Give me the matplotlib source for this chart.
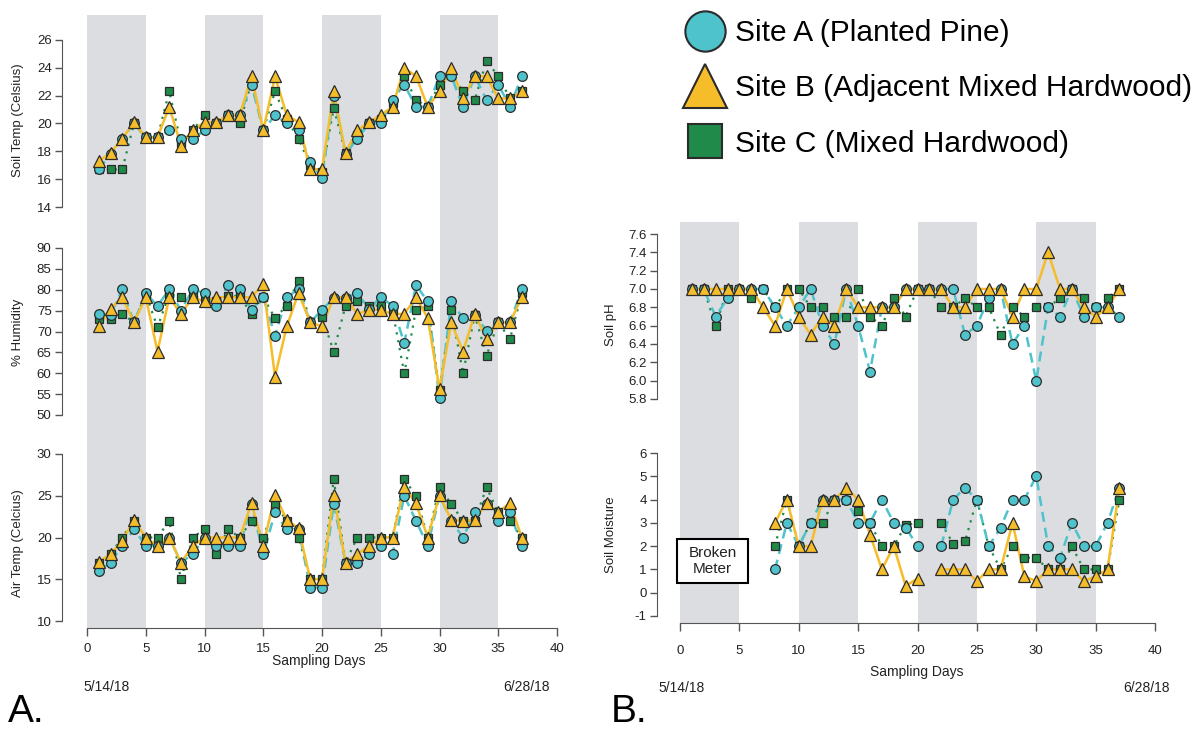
import numpy as np
import matplotlib
matplotlib.use('Agg')
import matplotlib.pyplot as plt
from matplotlib.lines import Line2D
from matplotlib.patches import Rectangle

plt.rcParams['font.family'] = ['Liberation Sans', 'DejaVu Sans']

nan = np.nan
days = np.arange(1, 38)

# ---- Panel A data ----
soil_temp_a = [16.7, 17.8, 18.9, 20.0, 19.0, 19.0, 19.5, 18.9, 18.9, 19.5, 20.0, 20.6, 20.6, 22.8, 19.5, 20.6, 20.0, 19.5, 17.2, 16.1,
               22.0, 17.8, 18.9, 20.0, 20.0, 21.7, 22.8, 21.2, 21.2, 23.4, 23.4, 21.2, 23.4, 21.7, 22.8, 21.2, 23.4]
soil_temp_b = [17.3, 17.9, 18.9, 20.1, 19.0, 19.0, 21.2, 18.4, 19.5, 20.1, 20.1, 20.6, 20.6, 23.4, 19.5, 23.4, 20.6, 20.1, 16.7, 16.7,
               22.3, 17.9, 19.5, 20.1, 20.6, 21.2, 24.0, 23.4, 21.2, 22.3, 24.0, 21.8, 23.4, 23.4, 21.8, 21.8, 22.3]
soil_temp_c = [16.7, 16.7, 16.7, 20.0, 19.0, 19.0, 22.3, 18.6, 19.5, 20.6, 20.0, 20.6, 20.0, 23.0, 19.5, 22.3, 20.3, 18.9, 17.0, 16.5,
               21.1, 17.9, 19.2, 20.0, 20.3, 21.5, 23.4, 21.7, 21.2, 22.8, 23.5, 22.3, 21.7, 24.5, 23.4, 21.8, 22.3]

humidity_a = [74.2, 74.0, 80.1, 72.2, 79.2, 76.1, 80.1, 75.0, 80.1, 79.2, 76.1, 81.1, 80.1, 75.2, 78.2, 69.0, 78.2, 80.1, 72.2, 75.2,
              78.0, 78.0, 79.2, 75.5, 78.2, 76.2, 67.2, 81.1, 77.2, 54.0, 77.2, 73.2, 74.0, 70.2, 72.2, 72.2, 80.1]
humidity_b = [71.2, 75.4, 78.2, 72.2, 78.2, 65.2, 78.2, 74.2, 78.2, 77.2, 78.2, 78.2, 78.2, 78.2, 81.3, 59.2, 71.2, 79.2, 72.2, 71.2,
              78.2, 78.2, 74.2, 75.2, 75.2, 74.2, 74.2, 78.2, 73.2, 56.2, 72.2, 65.2, 74.2, 68.2, 72.2, 72.2, 78.2]
humidity_c = [73.0, 72.9, 74.2, 72.2, 79.0, 71.0, 79.0, 78.2, 78.5, 78.0, 77.2, 78.5, 78.5, 74.2, 78.2, 73.2, 76.2, 82.2, 72.2, 73.5,
              65.2, 76.2, 77.2, 76.2, 76.2, 75.0, 60.0, 75.2, 76.2, 56.0, 75.2, 60.0, 74.0, 64.2, 72.2, 68.2, 79.2]

air_temp_a = [16.0, 17.0, 19.0, 21.0, 19.0, 19.0, 20.0, 17.0, 18.0, 20.0, 19.0, 19.0, 19.0, 24.0, 18.0, 23.0, 21.0, 21.0, 14.0, 14.0,
              24.0, 17.0, 17.0, 18.0, 19.0, 18.0, 25.0, 22.0, 19.0, 25.0, 22.0, 20.0, 23.0, 24.0, 22.0, 23.0, 19.0]
air_temp_b = [17.1, 18.0, 19.6, 22.1, 20.0, 19.0, 20.0, 17.0, 19.0, 20.0, 20.0, 20.0, 20.0, 24.1, 19.0, 25.1, 22.1, 21.1, 15.0, 15.0,
              25.1, 17.0, 18.0, 19.0, 20.0, 20.0, 26.1, 24.1, 20.0, 25.1, 22.1, 22.0, 22.1, 24.1, 23.1, 24.1, 20.0]
air_temp_c = [17.0, 18.0, 20.0, 22.0, 20.0, 20.0, 22.0, 15.0, 20.0, 21.0, 18.0, 21.0, 20.0, 22.0, 20.0, 24.0, 22.0, 20.0, 15.0, 15.0,
              27.0, 17.0, 20.0, 20.0, 20.0, 20.0, 27.0, 25.0, 20.0, 26.0, 24.0, 22.0, 22.0, 26.0, 23.0, 22.0, 20.0]

# ---- Panel B data ----
ph_a = [7.0, 7.0, 6.7, 6.9, 7.0, 7.0, 7.0, 6.8, 6.6, 6.8, 7.0, 6.6, 6.4, 7.0, 6.6, 6.1, 6.8, 6.8, 7.0, 7.0,
        7.0, 7.0, 7.0, 6.5, 6.6, 6.9, 7.0, 6.4, 6.6, 6.0, 6.8, 6.7, 7.0, 6.7, 6.8, 6.8, 6.7]
ph_b = [7.0, 7.0, 7.0, 7.0, 7.0, 7.0, 6.8, 6.6, 7.0, 6.7, 6.5, 6.7, 6.6, 7.0, 6.8, 6.8, 6.8, 6.8, 7.0, 7.0,
        7.0, 7.0, 6.8, 6.8, 7.0, 7.0, 7.0, 6.7, 7.0, 7.0, 7.4, 7.0, 7.0, 6.8, 6.7, 6.8, 7.0]
ph_c = [7.0, 7.0, 6.6, 7.0, 7.0, 6.9, 7.0, 6.8, 7.0, 7.0, 6.8, 6.8, 6.7, 6.7, 7.0, 6.7, 6.6, 6.9, 6.7, 7.0,
        7.0, 6.8, 6.8, 6.9, 6.8, 6.8, 6.5, 6.8, 6.7, 6.8, 6.8, 6.9, 7.0, 6.9, 6.8, 6.9, 7.0]

moisture_a = [nan, nan, nan, nan, nan, nan, nan, 1.0, 3.0, 2.0, 3.0, 4.0, 4.0, 4.0, 3.0, 3.0, 4.0, 3.0, 2.8, 2.0,
              nan, 2.0, 4.0, 4.5, 4.0, 2.0, 2.8, 4.0, 4.0, 5.0, 2.0, 1.5, 3.0, 2.0, 2.0, 3.0, 4.5]
moisture_b = [nan, nan, nan, nan, nan, nan, nan, 3.0, 4.0, 2.0, 2.0, 4.0, 4.0, 4.5, 4.0, 2.5, 1.0, 2.0, 0.3, 0.6,
              nan, 1.0, 1.0, 1.0, 0.5, 1.0, 1.0, 3.0, 0.7, 0.5, 1.0, 1.0, 1.0, 0.5, 0.7, 1.0, 4.5]
moisture_c = [nan, nan, nan, nan, nan, nan, nan, 2.0, 4.0, 2.0, 3.0, 3.0, 4.0, 4.0, 3.5, 3.0, 2.0, 2.0, 2.9, 3.0,
              nan, 3.0, 2.1, 2.2, 4.0, 2.0, 1.0, 2.0, 1.5, 1.5, 1.0, 1.0, 2.0, 1.0, 1.0, 1.0, 4.0]

site_labels = ['Site A (Planted Pine)', 'Site B (Adjacent Mixed Hardwood)', 'Site C (Mixed Hardwood)']
shade_periods = [(0, 5), (10, 15), (20, 25), (30, 35)]
x_ticks = [0, 5, 10, 15, 20, 25, 30, 35, 40]

W, H = 1199, 731
fig = plt.figure(figsize=(W / 100, H / 100), dpi=100)


def rect(x0, x1, y0, y1):
    return [x0 / W, 1 - y1 / H, (x1 - x0) / W, (y1 - y0) / H]


BAND = '#dcdde0'
TEAL = '#4ec3cc'
GOLD = '#f6bd2b'
GREEN = '#1f8a4a'
EDGE = '#2b2b2b'
AXC = '#555555'
FS = 9.5


def background(r, pad):
    ax = fig.add_axes(r)
    ax.set_xlim(0, 40)
    ax.set_ylim(0, 1)
    for a, b in shade_periods:
        ax.axvspan(a, b, color=BAND, lw=0)
    for s in ['left', 'right', 'top']:
        ax.spines[s].set_visible(False)
    ax.spines['bottom'].set_color(AXC)
    ax.set_yticks([])
    ax.set_xticks(x_ticks)
    ax.tick_params(axis='x', length=6, width=1, color=AXC, labelsize=FS, pad=pad, labelcolor='#222222')
    return ax


def sub(r, ylim, yticks, fmt, outward):
    ax = fig.add_axes(r)
    ax.set_xlim(0, 40)
    ax.set_ylim(*ylim)
    ax.patch.set_visible(False)
    for s in ['right', 'top', 'bottom']:
        ax.spines[s].set_visible(False)
    ax.spines['left'].set_position(('outward', outward))
    ax.spines['left'].set_color(AXC)
    ax.set_xticks([])
    ax.set_yticks(yticks)
    ax.set_yticklabels([fmt.format(t) for t in yticks])
    ax.tick_params(axis='y', length=5, width=1, color=AXC, labelsize=FS, pad=2.5, labelcolor='#222222')
    return ax


def draw(ax, a, b, c):
    ax.plot(days, c, ls=(0, (1, 2.6)), color=GREEN, lw=1.6, zorder=2, clip_on=False)
    ax.plot(days, a, ls=(0, (4, 2.4)), color=TEAL, lw=1.8, zorder=2, clip_on=False)
    ax.plot(days, b, ls='-', color=GOLD, lw=1.8, zorder=2, clip_on=False)
    ax.plot(days, c, ls='none', marker='s', ms=6.3, mfc=GREEN, mec=EDGE, mew=0.9, zorder=3, clip_on=False)
    ax.plot(days, a, ls='none', marker='o', ms=7, mfc=TEAL, mec=EDGE, mew=0.9, zorder=4, clip_on=False)
    ax.plot(days, b, ls='none', marker='^', ms=8, mfc=GOLD, mec=EDGE, mew=0.9, zorder=5, clip_on=False)


# Panel A
background(rect(87, 557, 15, 628), pad=5)
ax1 = sub(rect(87, 557, 40, 207), (14, 26), [14, 16, 18, 20, 22, 24, 26], '{:g}', 18)
draw(ax1, soil_temp_a, soil_temp_b, soil_temp_c)
ax2 = sub(rect(87, 557, 248, 415), (50, 90), [50, 55, 60, 65, 70, 75, 80, 85, 90], '{:g}', 18)
draw(ax2, humidity_a, humidity_b, humidity_c)
ax3 = sub(rect(87, 557, 454, 621), (10, 30), [10, 15, 20, 25, 30], '{:g}', 18)
draw(ax3, air_temp_a, air_temp_b, air_temp_c)

# Panel B
background(rect(680, 1155, 222, 623), pad=10)
ax4 = sub(rect(680, 1155, 234, 399), (5.8, 7.6), [5.8, 6.0, 6.2, 6.4, 6.6, 6.8, 7.0, 7.2, 7.4, 7.6], '{:.1f}', 16.5)
draw(ax4, ph_a, ph_b, ph_c)
ax5 = sub(rect(680, 1155, 453, 616), (-1, 6), [-1, 0, 1, 2, 3, 4, 5, 6], '{:g}', 16.5)
draw(ax5, moisture_a, moisture_b, moisture_c)

# y labels
ylab = dict(rotation=90, ha='center', va='center', fontsize=FS, color='#222222')
fig.text(18 / W, 1 - 120 / H, 'Soil Temp (Celsius)', **ylab)
fig.text(18 / W, 1 - 332 / H, '% Humidity', **ylab)
fig.text(18 / W, 1 - 543 / H, 'Air Temp (Celcius)', **ylab)
fig.text(611 / W, 1 - 325 / H, 'Soil pH', **ylab)
fig.text(611 / W, 1 - 535 / H, 'Soil Moisture', **ylab)

# x labels and dates
fig.text(319 / W, 1 - 661 / H, 'Sampling Days', ha='center', va='center', fontsize=10, color='#222222')
fig.text(917 / W, 1 - 672 / H, 'Sampling Days', ha='center', va='center', fontsize=10, color='#222222')
fig.text(107 / W, 1 - 687 / H, '5/14/18', ha='center', va='center', fontsize=10, color='#222222')
fig.text(527 / W, 1 - 687 / H, '6/28/18', ha='center', va='center', fontsize=10, color='#222222')
fig.text(682 / W, 1 - 688 / H, '5/14/18', ha='center', va='center', fontsize=10, color='#222222')
fig.text(1147 / W, 1 - 688 / H, '6/28/18', ha='center', va='center', fontsize=10, color='#222222')
fig.text(8 / W, 1 - 712 / H, 'A.', ha='left', va='center', fontsize=28, color='black')
fig.text(611 / W, 1 - 712 / H, 'B.', ha='left', va='center', fontsize=28, color='black')

# Broken meter box
fig.patches.append(Rectangle((677 / W, 1 - 583 / H), 71 / W, 44 / H, transform=fig.transFigure,
                             facecolor='white', edgecolor='black', lw=1.5, zorder=10))
fig.text(712.5 / W, 1 - 561 / H, 'Broken\nMeter', ha='center', va='center', fontsize=11,
         linespacing=1.25, color='#222222', zorder=11)

# legend
handles = [
    Line2D([], [], ls='none', marker='o', ms=29, mfc=TEAL, mec=EDGE, mew=1.5),
    Line2D([], [], ls='none', marker='^', ms=31, mfc=GOLD, mec=EDGE, mew=1.5),
    Line2D([], [], ls='none', marker='s', ms=25, mfc=GREEN, mec=EDGE, mew=1.5),
]
fig.legend(handles, site_labels, loc='upper left', bbox_to_anchor=(690 / W, 1 - 19 / H),
           frameon=False, fontsize=21.5, handlelength=1.0, handletextpad=0.5,
           labelspacing=0.92, borderpad=0, borderaxespad=0)

fig.savefig('out.png', dpi=100)
